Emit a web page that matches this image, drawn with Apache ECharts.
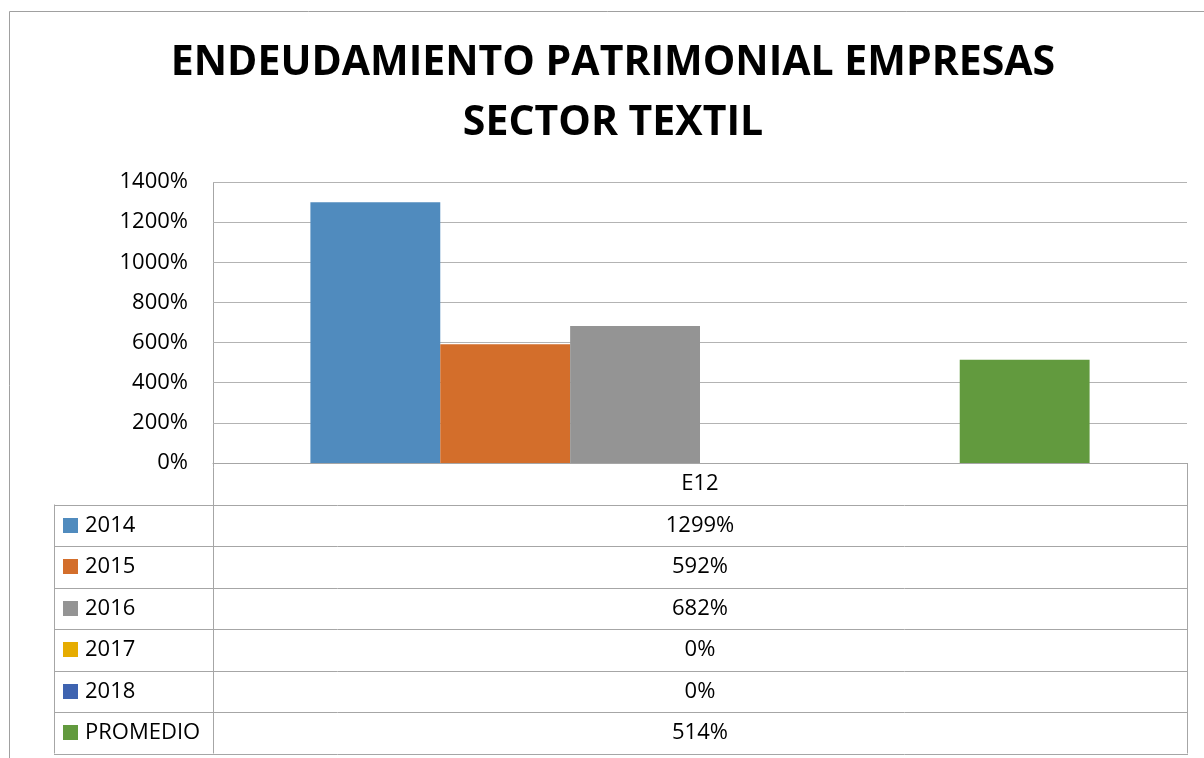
<!DOCTYPE html>
<html>
<head>
<meta charset="utf-8">
<script src="https://cdn.jsdelivr.net/npm/echarts@6/dist/echarts.min.js"></script>
<style>html,body{margin:0;padding:0;background:#fff}#c{width:1204px;height:758px}</style>
</head>
<body>
<div id="c"></div>
<script>
const categories = ['E12'];
const seriesNames = ['2014', '2015', '2016', '2017', '2018', 'PROMEDIO'];
const values2014 = [1299];
const values2015 = [592];
const values2016 = [682];
const values2017 = [0];
const values2018 = [0];
const valuesPromedio = [514];
const seriesValues = [values2014, values2015, values2016, values2017, values2018, valuesPromedio];
const colors = ['#508BBE', '#D36E2B', '#949494', '#E6AC00', '#3E63B0', '#629A3E'];
const titleLines = ['ENDEUDAMIENTO PATRIMONIAL EMPRESAS', 'SECTOR TEXTIL'];

const FONT = '"Open Sans", "Liberation Sans", sans-serif';
const G = { left: 213, top: 182, right: 1187, bottom: 463 };
const rowH = 41.5;
const tableLeft = 54;
const lineColor = '#A6A6A6';
const textSize = 22;

const chart = echarts.init(document.getElementById('c'), null, { renderer: 'canvas' });

const graphics = [];
graphics.push({ type: 'rect', shape: { x: 9.5, y: 11.5, width: 1220, height: 780 }, style: { fill: null, stroke: '#A0A0A0', lineWidth: 1 }, silent: true });
const nRows = seriesNames.length;
const tableBottom = G.bottom + rowH * (nRows + 1);
graphics.push({ type: 'line', shape: { x1: G.left + 0.5, y1: G.top, x2: G.left + 0.5, y2: tableBottom }, style: { stroke: lineColor, lineWidth: 1 } });
graphics.push({ type: 'line', shape: { x1: G.right + 0.5, y1: G.bottom, x2: G.right + 0.5, y2: tableBottom }, style: { stroke: lineColor, lineWidth: 1 } });
graphics.push({ type: 'line', shape: { x1: tableLeft + 0.5, y1: G.bottom + rowH, x2: tableLeft + 0.5, y2: tableBottom }, style: { stroke: lineColor, lineWidth: 1 } });
for (let i = 1; i <= nRows + 1; i++) {
  const y = Math.round(G.bottom + rowH * i) + 0.5;
  graphics.push({ type: 'line', shape: { x1: tableLeft, y1: y, x2: G.right + 1, y2: y }, style: { stroke: lineColor, lineWidth: 1 } });
}
const midX = (G.left + G.right) / 2;
graphics.push({ type: 'text', x: midX, y: G.bottom + rowH / 2, style: { text: categories[0], font: textSize + 'px ' + FONT, fill: '#000', align: 'center', verticalAlign: 'middle' } });
seriesNames.forEach((name, i) => {
  const cy = G.bottom + rowH * (i + 1.5);
  graphics.push({ type: 'rect', shape: { x: 63, y: Math.round(cy - 7.5), width: 15, height: 15 }, style: { fill: colors[i] } });
  graphics.push({ type: 'text', x: 85, y: cy, style: { text: name, font: textSize + 'px ' + FONT, fill: '#000', align: 'left', verticalAlign: 'middle' } });
  graphics.push({ type: 'text', x: midX, y: cy, style: { text: seriesValues[i][0] + '%', font: textSize + 'px ' + FONT, fill: '#000', align: 'center', verticalAlign: 'middle' } });
});
graphics.push({ type: 'text', x: 613, y: 63, style: { text: titleLines[0], font: 'bold 41px ' + FONT, fill: '#000', align: 'center', verticalAlign: 'middle' } });
graphics.push({ type: 'text', x: 613, y: 123, style: { text: titleLines[1], font: 'bold 41px ' + FONT, fill: '#000', align: 'center', verticalAlign: 'middle' } });

chart.setOption({
  animation: false,
  backgroundColor: '#fff',
  grid: { left: G.left, top: G.top, width: G.right - G.left, height: G.bottom - G.top, containLabel: false },
  xAxis: {
    type: 'category', data: categories,
    axisLine: { show: true, lineStyle: { color: lineColor } },
    axisTick: { show: false }, axisLabel: { show: false }, splitLine: { show: false }
  },
  yAxis: {
    type: 'value', min: 0, max: 1400, interval: 200,
    axisLine: { show: false }, axisTick: { show: false },
    axisLabel: { formatter: v => v + '%', color: '#000', fontSize: textSize, fontFamily: FONT, margin: 25 },
    splitLine: { lineStyle: { color: '#B3B3B3', width: 1 } }
  },
  series: seriesNames.map((name, i) => ({
    name, type: 'bar', data: seriesValues[i],
    barGap: 0, barCategoryGap: '20%',
    itemStyle: { color: colors[i] }
  })),
  graphic: graphics
});
</script>
</body>
</html>
